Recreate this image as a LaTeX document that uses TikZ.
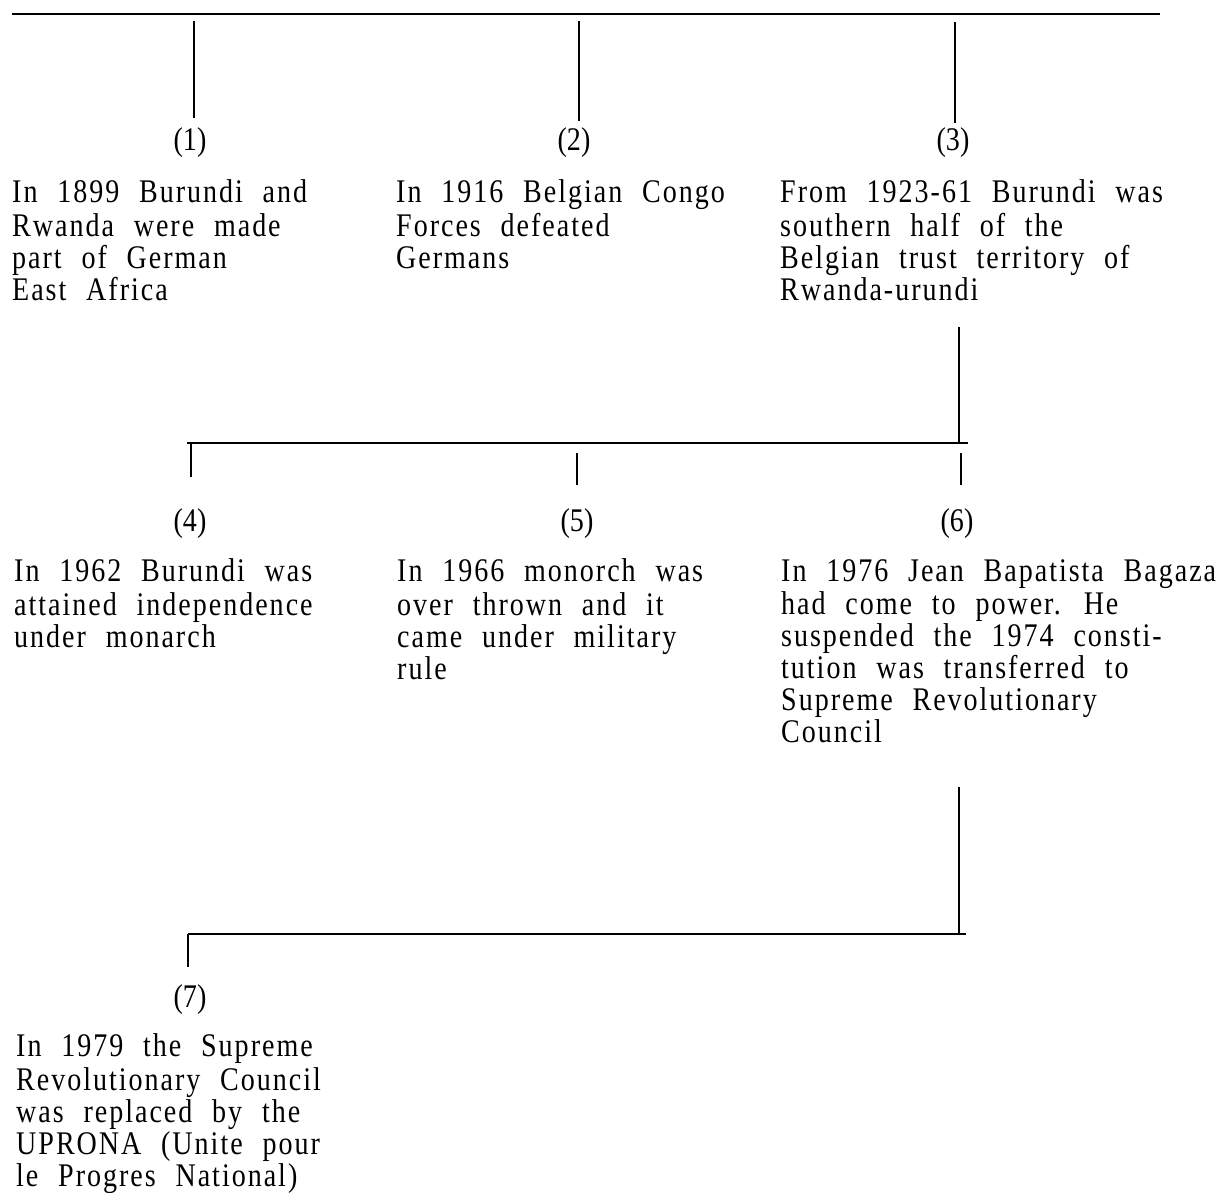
\documentclass[tikz,border=0pt]{standalone}
\usepackage{fontspec}
\setmainfont{Liberation Serif}
\newfontfamily\evfont{Liberation Serif}[FakeStretch=0.85,LetterSpace=6,WordSpace=2.2]
\newfontfamily\lbfont{Liberation Serif}[FakeStretch=0.85]
\begin{document}
\begin{tikzpicture}[x=1pt,y=-1pt,
  hline/.style={line width=2pt,black},
  vline/.style={line width=1.5pt,black},
  evtext/.style={anchor=north west,align=left,inner sep=0pt,
    font=\evfont\fontsize{33}{32}\selectfont},
  numlabel/.style={inner sep=0pt,font=\lbfont\fontsize{33}{32}\selectfont}]
\useasboundingbox (0,0) rectangle (1232,1192);
% coordinates
\coordinate (t0) at (12,14);
\coordinate (t1) at (1160,14);
\coordinate (v1a) at (194,21);
\coordinate (v1b) at (194,118);
\coordinate (v2a) at (579,21);
\coordinate (v2b) at (579,121);
\coordinate (v3a) at (955,22);
\coordinate (v3b) at (955,123);
\coordinate (v3c) at (959,327);
\coordinate (j2) at (959,443);
\coordinate (h2a) at (187,443);
\coordinate (h2b) at (968,443);
\coordinate (v4a) at (191,443);
\coordinate (v4b) at (191,477);
\coordinate (v5a) at (577,453);
\coordinate (v5b) at (577,485);
\coordinate (v6a) at (961,453);
\coordinate (v6b) at (961,485);
\coordinate (v6c) at (959,787);
\coordinate (j3) at (959,934);
\coordinate (h3a) at (188,934);
\coordinate (h3b) at (966,934);
\coordinate (v7b) at (188,967);
% labels
\node[numlabel] (l1) at (190,143) {(1)};
\node[numlabel] (l2) at (574,143) {(2)};
\node[numlabel] (l3) at (953,143) {(3)};
\node[numlabel] (l4) at (190,524) {(4)};
\node[numlabel] (l5) at (577,524) {(5)};
\node[numlabel] (l6) at (957,524) {(6)};
\node[numlabel] (l7) at (190,1000) {(7)};
% texts (top = baseline - strut height 22.4)
\node[evtext] (e1) at (12,179.6) {\strut In 1899 Burundi and\\Rwanda were made\\part of German\\East Africa};
\node[evtext] (e2) at (396,179.6) {\strut In 1916 Belgian Congo\\Forces defeated\\Germans};
\node[evtext] (e3) at (780,179.6) {\strut From 1923-61 Burundi was\\southern half of the\\Belgian trust territory of\\Rwanda-urundi};
\node[evtext] (e4) at (14,558.6) {\strut In 1962 Burundi was\\attained independence\\under monarch};
\node[evtext] (e5) at (397,558.6) {\strut In 1966 monorch was\\over thrown and it\\came under military\\rule};
\node[evtext] (e6) at (781,558.6) {\strut In 1976 Jean Bapatista Bagaza\\had come to power. He\\suspended the 1974 consti-\\tution was transferred to\\Supreme Revolutionary\\Council};
\node[evtext] (e7) at (16,1033.6) {\strut In 1979 the Supreme\\Revolutionary Council\\was replaced by the\\UPRONA (Unite pour\\le Progres National)};
% connectors
\draw[hline] (t0) -- (t1);
\draw[vline] (v1a) -- (v1b);
\draw[vline] (v2a) -- (v2b);
\draw[vline] (v3a) -- (v3b);
\draw[vline] (v3c) -- (j2);
\draw[hline] (h2a) -- (h2b);
\draw[vline] (v4a) -- (v4b);
\draw[vline] (v5a) -- (v5b);
\draw[vline] (v6a) -- (v6b);
\draw[vline] (v6c) -- (j3);
\draw[hline] (h3a) -- (h3b);
\draw[vline] (h3a) -- (v7b);
\end{tikzpicture}
\end{document}
